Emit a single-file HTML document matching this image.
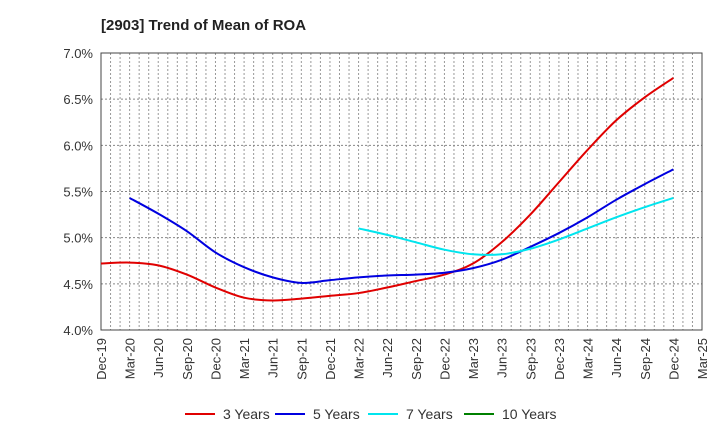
<!DOCTYPE html>
<html><head><meta charset="utf-8"><style>
body{margin:0;background:#fff;font-family:"Liberation Sans",sans-serif}
</style></head><body>
<svg id="c" width="720" height="440" xmlns="http://www.w3.org/2000/svg">
<text x="101" y="30" font-size="15" font-weight="bold" fill="#222">[2903]  Trend of Mean of ROA</text>
<g id="grid"></g><g id="axes"></g><g id="series"></g><g id="legend"></g>
</svg>
<script>
const xLabels=["Dec-19","Mar-20","Jun-20","Sep-20","Dec-20","Mar-21","Jun-21","Sep-21","Dec-21","Mar-22","Jun-22","Sep-22","Dec-22","Mar-23","Jun-23","Sep-23","Dec-23","Mar-24","Jun-24","Sep-24","Dec-24","Mar-25"];
const yTicks=[4.0,4.5,5.0,5.5,6.0,6.5,7.0];
const seriesNames=["3 Years","5 Years","7 Years","10 Years"];
const seriesColors=["#e00000","#0000e0","#00e5ee","#008000"];
const s3=[4.72,4.73,4.70,4.60,4.46,4.35,4.32,4.34,4.37,4.40,4.46,4.53,4.60,4.72,4.95,5.25,5.60,5.95,6.27,6.52,6.73];
const s3Start=0;
const s5=[5.43,5.26,5.07,4.84,4.68,4.57,4.51,4.54,4.57,4.59,4.60,4.62,4.67,4.76,4.90,5.05,5.22,5.41,5.58,5.74];
const s5Start=1;
const s7=[5.10,5.03,4.95,4.87,4.82,4.82,4.88,4.98,5.10,5.22,5.33,5.43];
const s7Start=9;
const s10=[];
const s10Start=0;

const L=101,R=702,T=53,B=330,ns="http://www.w3.org/2000/svg";
const yMin=4,yMax=7;
const nQ=xLabels.length-1;
const xS=i=>L+(R-L)*i/nQ;
const yS=v=>B-(v-yMin)/(yMax-yMin)*(B-T);
function mk(tag,attrs,parent){const e=document.createElementNS(ns,tag);for(const k in attrs)e.setAttribute(k,attrs[k]);parent.appendChild(e);return e;}
const grid=document.getElementById('grid'),axes=document.getElementById('axes'),ser=document.getElementById('series'),leg=document.getElementById('legend');
for(let m=1;m<nQ*3;m++){const x=L+(R-L)*m/(nQ*3);
 const l=mk('line',{x1:x,x2:x,y1:T,y2:B,stroke:'#999','stroke-dasharray':'2,2','stroke-width':1},grid);
 
 }
yTicks.forEach(v=>{const y=yS(v);
 const l=mk('line',{x1:L,x2:R,y1:y,y2:y,stroke:'#888','stroke-dasharray':'2,2','stroke-width':1},grid);
 
 
 const t=mk('text',{x:L-8,y:y+5,'text-anchor':'end','font-size':13,fill:'#333'},axes);t.textContent=v.toFixed(1)+'%';
 
 });
const fr=mk('rect',{x:L,y:T,width:R-L,height:B-T,fill:'none',stroke:'#444','stroke-width':1},axes);


xLabels.forEach((s,i)=>{const x=xS(i);
 const t=mk('text',{x:0,y:0,'text-anchor':'end','font-size':13,fill:'#333',transform:`translate(${x+5},${B+8}) rotate(-90)`},axes);t.textContent=s;
 
 });
function path(vals,start){if(vals.length<2)return '';const p=vals.map((v,i)=>[xS(start+i),yS(v)]);let d=`M${p[0][0]},${p[0][1]}`;
 for(let i=0;i<p.length-1;i++){const p0=p[i-1]||p[i],p1=p[i],p2=p[i+1],p3=p[i+2]||p2;
 const c1=[p1[0]+(p2[0]-p0[0])/6,p1[1]+(p2[1]-p0[1])/6],c2=[p2[0]-(p3[0]-p1[0])/6,p2[1]-(p3[1]-p1[1])/6];
 d+=` C${c1[0]},${c1[1]} ${c2[0]},${c2[1]} ${p2[0]},${p2[1]}`;}return d;}
const all=[[s3,s3Start],[s5,s5Start],[s7,s7Start],[s10,s10Start]];
all.forEach(([v,s],k)=>{const d=path(v,s);if(!d)return;
 const p=mk('path',{d:d,fill:'none',stroke:seriesColors[k],'stroke-width':2},ser);
 
 });
const lx=[185,275,368,464];
seriesNames.forEach((n,k)=>{
 const g=mk('g',{},leg);
 
 
 mk('line',{x1:lx[k],x2:lx[k]+30,y1:414,y2:414,stroke:seriesColors[k],'stroke-width':2},g);
 const t=mk('text',{x:lx[k]+38,y:419,'font-size':14,fill:'#333'},g);t.textContent=n;});
</script>
</body></html>
